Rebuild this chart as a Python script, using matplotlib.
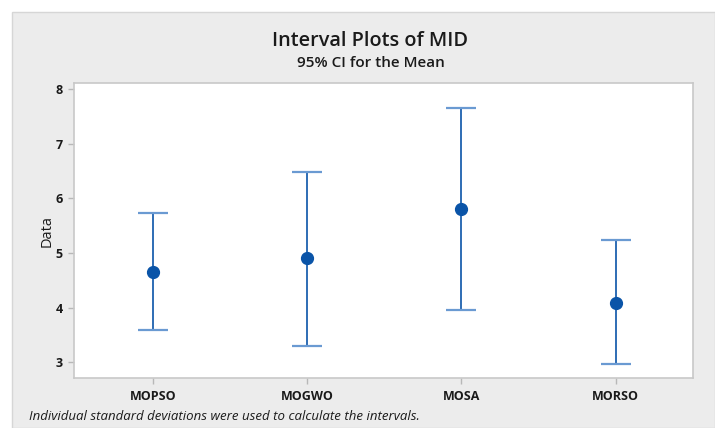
import matplotlib
matplotlib.use("Agg")
import matplotlib.pyplot as plt
from matplotlib.patches import Rectangle

# data (95% CI for the mean)
groups = ["MOPSO", "MOGWO", "MOSA", "MORSO"]
means = [4.65, 4.90, 5.80, 4.09]
lower = [3.59, 3.29, 3.95, 2.97]
upper = [5.73, 6.49, 7.66, 5.24]
yticks = [3, 4, 5, 6, 7, 8]

W, H = 715, 428
plt.rcParams["font.family"] = ["Open Sans", "DejaVu Sans"]

fig = plt.figure(figsize=(W / 100, H / 100), dpi=100)
fig.patch.set_facecolor("white")

# grey panel with thin border, offset from the top-left corner
fig.patches.append(Rectangle((12 / W, 0), 1 - 12 / W, 1 - 12 / H,
                             transform=fig.transFigure, facecolor="#ececec",
                             edgecolor="#d6d6d6", linewidth=1.0, zorder=-10))

ax = fig.add_axes([74 / W, 1 - 378 / H, (693 - 74) / W, (378 - 83) / H])
ax.set_facecolor("white")

x = list(range(len(groups)))
err_lo = [m - l for m, l in zip(means, lower)]
err_hi = [u - m for m, u in zip(means, upper)]
line_col = "#0a54a8"
ax.errorbar(x, means, yerr=[err_lo, err_hi], fmt="none", ecolor=line_col,
            elinewidth=1.2, capsize=0, zorder=2)
# caps drawn a little lighter like the reference
ax.hlines(lower + upper, [i - 0.097 for i in x] * 2, [i + 0.097 for i in x] * 2,
          colors="#6a9ad2", linewidth=1.6, zorder=2)
ax.plot(x, means, "o", color="#0a54a8", markersize=8.5, zorder=3)

ax.set_xlim(-0.51, 3.5)
ax.set_ylim(2.71, 8.11)
ax.set_xticks(x)
ax.set_xticklabels(groups, fontsize=9, fontweight="bold", color="#1a1a1a")
ax.set_yticks(yticks)
ax.set_yticklabels([str(t) for t in yticks], fontsize=9, fontweight="bold",
                   color="#1a1a1a")
ax.tick_params(axis="both", length=4, color="#b8b8b8", width=1.0, pad=4)
ax.tick_params(axis="x", pad=5)
for s in ax.spines.values():
    s.set_color("#c8c8c8")
    s.set_linewidth(1.2)

ax.set_ylabel("Data", fontsize=10.5, color="#1a1a1a", labelpad=1)

fig.text(370 / W, 1 - 41 / H, "Interval Plots of MID", ha="center", va="center",
         fontsize=14.3, fontweight="semibold", color="#1a1a1a")
fig.text(371 / W, 1 - 63 / H, "95% CI for the Mean", ha="center", va="center",
         fontsize=11, fontweight="semibold", color="#1a1a1a")
fig.text(29 / W, 1 - 417 / H,
         "Individual standard deviations were used to calculate the intervals.",
         ha="left", va="center", fontsize=9.5, style="italic", color="#1a1a1a")

fig.savefig("out.png", dpi=100)
